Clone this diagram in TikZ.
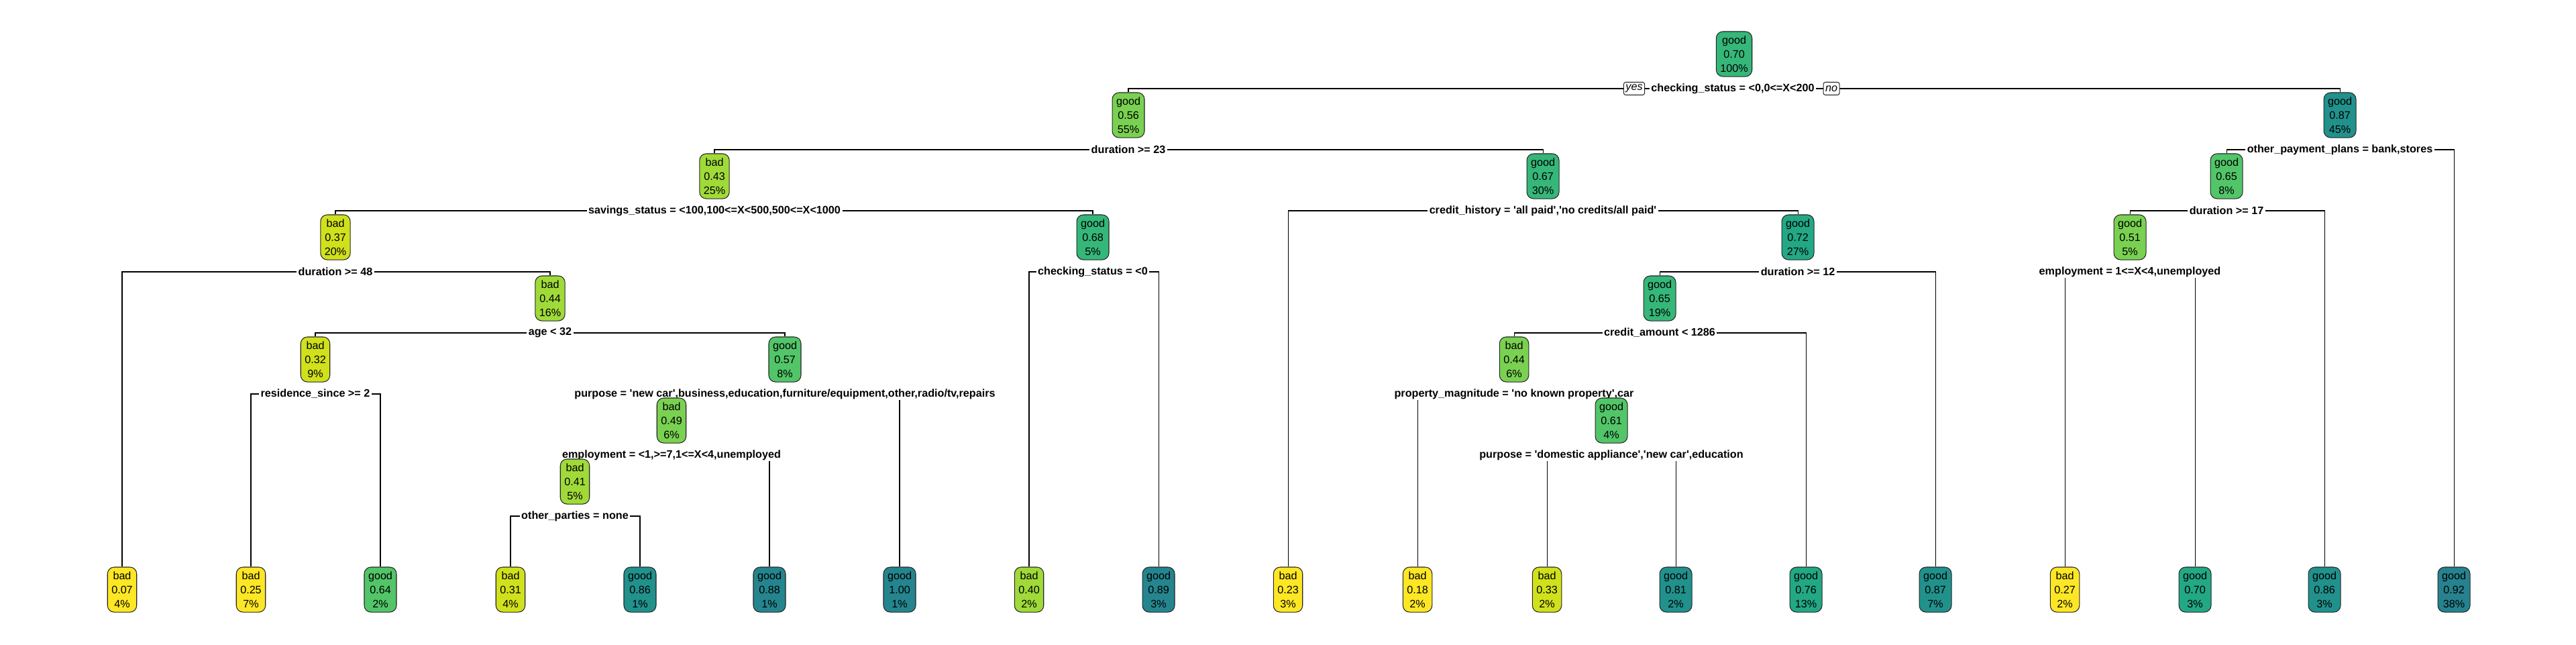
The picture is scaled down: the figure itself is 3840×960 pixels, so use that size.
\documentclass[tikz,border=0pt]{standalone}
\usepackage{fontspec}
\setmainfont{Liberation Sans}[Ligatures=TeXOff]
\usetikzlibrary{backgrounds}

\definecolor{vYel}{HTML}{FDE725}
\definecolor{vLim}{HTML}{D0E11C}
\definecolor{vLgr}{HTML}{A0DA39}
\definecolor{vGrn}{HTML}{7AD151}
\definecolor{vMgr}{HTML}{52C569}
\definecolor{vSea}{HTML}{35B779}
\definecolor{vJad}{HTML}{22A884}
\definecolor{vTea}{HTML}{21918C}
\definecolor{vBlu}{HTML}{25858E}
\definecolor{vDbl}{HTML}{26828E}

\begin{document}
\begin{tikzpicture}[x=0.01cm,y=-0.01cm,
  box/.style={draw=black!85,line width=0.3pt,rounded corners=0.1cm,align=center,
    inner xsep=0.06cm,inner ysep=0pt,minimum height=0.67cm,
    font=\fontsize{4.6}{5.9}\selectfont},
  split/.style={fill=white,inner xsep=0.025cm,inner ysep=0.01cm,
    font=\bfseries\fontsize{4.6}{5.5}\selectfont},
  yn/.style={draw=black!85,line width=0.3pt,rounded corners=0.03cm,fill=white,
    inner xsep=0.03cm,inner ysep=0pt,minimum height=0.19cm,
    font=\itshape\fontsize{4.6}{5.5}\selectfont},
  edge/.style={line width=0.3pt}]
\useasboundingbox (0,0) rectangle (3840,960);

% split labels
\node[split] (s1) at (2583,132) {checking\_status = <0,0<=X<200};
\node[yn] (yes) at (2436,132) {yes};
\node[yn] (no) at (2730,132) {no};
\node[split] (s2) at (1682,223) {duration >= 23};
\node[split] (s3) at (3488,223) {other\_payment\_plans = bank,stores};
\node[split] (s4) at (1065,314) {savings\_status = <100,100<=X<500,500<=X<1000};
\node[split] (s5) at (2300,314) {credit\_history = 'all paid','no credits/all paid'};
\node[split] (s6) at (3319,314) {duration >= 17};
\node[split] (s8) at (500,405) {duration >= 48};
\node[split] (s9) at (1629,405) {checking\_status = <0};
\node[split] (s11) at (2680,405) {duration >= 12};
\node[split] (s12) at (3175,405) {employment = 1<=X<4,unemployed};
\node[split] (s17) at (820,496) {age < 32};
\node[split] (s22) at (2474,496) {credit\_amount < 1286};
\node[split] (s34) at (470,587) {residence\_since >= 2};
\node[split] (s35) at (1170,587) {purpose = 'new car',business,education,furniture/equipment,other,radio/tv,repairs};
\node[split] (s44) at (2257,587) {property\_magnitude = 'no known property',car};
\node[split] (s70) at (1001,678) {employment = <1,>=7,1<=X<4,unemployed};
\node[split] (s89) at (2402,678) {purpose = 'domestic appliance','new car',education};
\node[split] (s140) at (857,769) {other\_parties = none};

% inner nodes
\node[box,fill=vSea] (n1) at (2585,80.5) {good\\0.70\\100\%};
\node[box,fill=vGrn] (n2) at (1682,171.5) {good\\0.56\\55\%};
\node[box,fill=vTea] (n3) at (3488,171.5) {good\\0.87\\45\%};
\node[box,fill=vLgr] (n4) at (1065,262.5) {bad\\0.43\\25\%};
\node[box,fill=vSea] (n5) at (2300,262.5) {good\\0.67\\30\%};
\node[box,fill=vMgr] (n6) at (3319,262.5) {good\\0.65\\8\%};
\node[box,fill=vLim] (n8) at (500,353.5) {bad\\0.37\\20\%};
\node[box,fill=vSea] (n9) at (1629,353.5) {good\\0.68\\5\%};
\node[box,fill=vJad] (n11) at (2680,353.5) {good\\0.72\\27\%};
\node[box,fill=vGrn] (n12) at (3175,353.5) {good\\0.51\\5\%};
\node[box,fill=vLgr] (n17) at (820,444.5) {bad\\0.44\\16\%};
\node[box,fill=vSea] (n22) at (2474,444.5) {good\\0.65\\19\%};
\node[box,fill=vLim] (n34) at (470,535.5) {bad\\0.32\\9\%};
\node[box,fill=vMgr] (n35) at (1170,535.5) {good\\0.57\\8\%};
\node[box,fill=vGrn] (n44) at (2257,535.5) {bad\\0.44\\6\%};
\node[box,fill=vGrn] (n70) at (1001,626.5) {bad\\0.49\\6\%};
\node[box,fill=vMgr] (n89) at (2402,626.5) {good\\0.61\\4\%};
\node[box,fill=vLgr] (n140) at (857,717.5) {bad\\0.41\\5\%};

% leaves
\node[box,fill=vYel] (l1) at (182,878.5) {bad\\0.07\\4\%};
\node[box,fill=vYel] (l2) at (374,878.5) {bad\\0.25\\7\%};
\node[box,fill=vMgr] (l3) at (567,878.5) {good\\0.64\\2\%};
\node[box,fill=vLim] (l4) at (761,878.5) {bad\\0.31\\4\%};
\node[box,fill=vTea] (l5) at (954,878.5) {good\\0.86\\1\%};
\node[box,fill=vBlu] (l6) at (1147,878.5) {good\\0.88\\1\%};
\node[box,fill=vBlu] (l7) at (1341,878.5) {good\\1.00\\1\%};
\node[box,fill=vLgr] (l8) at (1534,878.5) {bad\\0.40\\2\%};
\node[box,fill=vBlu] (l9) at (1727,878.5) {good\\0.89\\3\%};
\node[box,fill=vYel] (l10) at (1920,878.5) {bad\\0.23\\3\%};
\node[box,fill=vYel] (l11) at (2113,878.5) {bad\\0.18\\2\%};
\node[box,fill=vLim] (l12) at (2306,878.5) {bad\\0.33\\2\%};
\node[box,fill=vTea] (l13) at (2498,878.5) {good\\0.81\\2\%};
\node[box,fill=vJad] (l14) at (2692,878.5) {good\\0.76\\13\%};
\node[box,fill=vTea] (l15) at (2885,878.5) {good\\0.87\\7\%};
\node[box,fill=vYel] (l16) at (3078,878.5) {bad\\0.27\\2\%};
\node[box,fill=vJad] (l17) at (3272,878.5) {good\\0.70\\3\%};
\node[box,fill=vTea] (l18) at (3465,878.5) {good\\0.86\\3\%};
\node[box,fill=vDbl] (l19) at (3658,878.5) {good\\0.92\\38\%};

\begin{scope}[on background layer]
\draw[edge] (s1.center) -| (n2.north);
\draw[edge] (s1.center) -| (n3.north);
\draw[edge] (s2.center) -| (n4.north);
\draw[edge] (s2.center) -| (n5.north);
\draw[edge] (s3.center) -| (n6.north);
\draw[edge] (s3.center) -| (l19.north);
\draw[edge] (s4.center) -| (n8.north);
\draw[edge] (s4.center) -| (n9.north);
\draw[edge] (s5.center) -| (l10.north);
\draw[edge] (s5.center) -| (n11.north);
\draw[edge] (s6.center) -| (n12.north);
\draw[edge] (s6.center) -| (l18.north);
\draw[edge] (s8.center) -| (l1.north);
\draw[edge] (s8.center) -| (n17.north);
\draw[edge] (s9.center) -| (l8.north);
\draw[edge] (s9.center) -| (l9.north);
\draw[edge] (s11.center) -| (n22.north);
\draw[edge] (s11.center) -| (l15.north);
\draw[edge] (s12.center) -| (l16.north);
\draw[edge] (s12.center) -| (l17.north);
\draw[edge] (s17.center) -| (n34.north);
\draw[edge] (s17.center) -| (n35.north);
\draw[edge] (s22.center) -| (n44.north);
\draw[edge] (s22.center) -| (l14.north);
\draw[edge] (s34.center) -| (l2.north);
\draw[edge] (s34.center) -| (l3.north);
\draw[edge] (s35.center) -| (n70.north);
\draw[edge] (s35.center) -| (l7.north);
\draw[edge] (s44.center) -| (l11.north);
\draw[edge] (s44.center) -| (n89.north);
\draw[edge] (s70.center) -| (n140.north);
\draw[edge] (s70.center) -| (l6.north);
\draw[edge] (s89.center) -| (l12.north);
\draw[edge] (s89.center) -| (l13.north);
\draw[edge] (s140.center) -| (l4.north);
\draw[edge] (s140.center) -| (l5.north);
\end{scope}
\end{tikzpicture}
\end{document}
